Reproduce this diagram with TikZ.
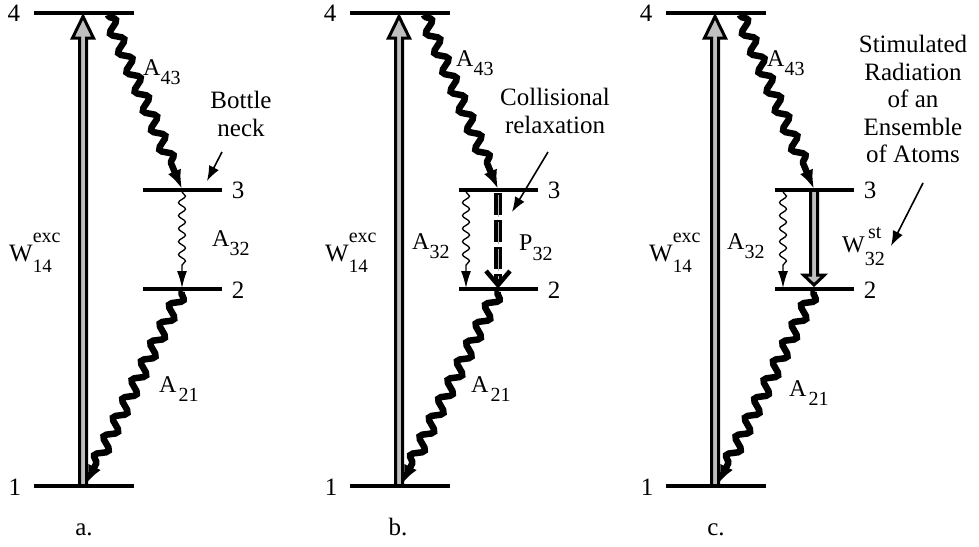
\documentclass[tikz,border=0pt]{standalone}
\usepackage{fontspec}
\setmainfont{Liberation Serif}
\usetikzlibrary{arrows.meta,decorations.pathmorphing,calc}
\newcommand\sublab[3]{#1\hspace{#3}\raisebox{-9pt}{\fontsize{20}{20}\selectfont #2}}
\tikzset{
 levelline/.style={line width=4pt},
 lvlnum/.style={font=\fontsize{25}{25}\selectfont, inner sep=0pt},
 thickwave/.style={line width=6.5pt, decorate, decoration={snake, amplitude=5.5pt, segment length=21pt, pre length=1pt, post length=18pt}, -{Latex[length=19pt,width=14pt]}},
 thinwave/.style={line width=1.3pt, decorate, decoration={snake, amplitude=3.5pt, segment length=13pt, post length=17pt}, -{Latex[length=17pt,width=10pt]}},
 pumpbox/.style={draw=black, fill=gray!50, line width=3pt, line join=miter},
 ratelab/.style={font=\fontsize{24}{24}\selectfont, inner sep=0pt, anchor=base west},
 notetext/.style={font=\fontsize{25}{28}\selectfont, align=center, inner sep=0pt},
 pointer/.style={line width=1.6pt, -{Latex[length=15pt,width=11pt]}},
 captionlab/.style={font=\fontsize{25}{25}\selectfont, inner sep=0pt, anchor=base},
}
\begin{document}
\begin{tikzpicture}[x=1pt,y=-1pt]
\useasboundingbox (0,0) rectangle (979,546);
\foreach \p/\dx/\Tx/\Ax/\Ay/\Bx/\By/\Cx/\Cy/\Wx in {a/0/182/143/75/212/246/159/392/9,b/316/150/140/66/96/249/155/392/9,c/632/151/135/66/95/249/157/396/17}{
\begin{scope}[xshift=\dx pt]
 % level end points
 \coordinate (\p-4w) at (34,13);  \coordinate (\p-4e) at (134,13);
 \coordinate (\p-1w) at (34,486); \coordinate (\p-1e) at (134,486);
 \coordinate (\p-3w) at (143,190); \coordinate (\p-3e) at (222,190);
 \coordinate (\p-2w) at (143,289); \coordinate (\p-2e) at (222,289);
 % pump arrow W14
 \coordinate (\p-pb) at (83,486); \coordinate (\p-pt) at (83,13);
 \filldraw[pumpbox] ($(\p-pb)+(-3.5,0)$) -- ($(\p-pt)+(-3.5,25)$) -- ($(\p-pt)+(-10.5,25)$) -- ($(\p-pt)+(0,3.5)$) -- ($(\p-pt)+(10.5,25)$) -- ($(\p-pt)+(3.5,25)$) -- ($(\p-pb)+(3.5,0)$);
 % spontaneous decays
 \coordinate (\p-43s) at (108,15); \coordinate (\p-43e) at (182,189);
 \coordinate (\p-21s) at (182,291); \coordinate (\p-21e) at (86,484);
 \coordinate (\p-32s) at (\Tx,192); \coordinate (\p-32e) at (\Tx,288);
 \draw[thickwave] (\p-43s) -- (\p-43e);
 \draw[thickwave] (\p-21s) -- (\p-21e);
 \draw[thinwave] (\p-32s) -- (\p-32e);
 % levels
 \draw[levelline] (\p-4w) -- (\p-4e);
 \draw[levelline] (\p-1w) -- (\p-1e);
 \draw[levelline] (\p-3w) -- (\p-3e);
 \draw[levelline] (\p-2w) -- (\p-2e);
 \node[lvlnum] (\p-n4) at (14,13) {4};
 \node[lvlnum] (\p-n1) at (15,487) {1};
 \node[lvlnum] (\p-n3) at (238,190) {3};
 \node[lvlnum] (\p-n2) at (238,290) {2};
 % labels
 \node[ratelab] (\p-lA43) at (\Ax,\Ay) {\sublab{A}{43}{0pt}};
 \node[ratelab] (\p-lA32) at (\Bx,\By) {\sublab{A}{32}{0pt}};
 \node[ratelab] (\p-lA21) at (\Cx,\Cy) {\sublab{A}{21}{2pt}};
 \node[ratelab, font=\fontsize{25}{25}\selectfont] (\p-lW) at (\Wx,261) {W\rlap{\raisebox{19pt}{\fontsize{20}{20}\selectfont exc}}\raisebox{-11pt}{\fontsize{19}{19}\selectfont 14}};
\end{scope}
}
\node[captionlab] (capa) at (84,535) {a.};
\node[captionlab] (capb) at (398,535) {b.};
\node[captionlab] (capc) at (716,535) {c.};
% panel a annotation
\node[notetext] (bneck) at (241,114) {Bottle\\neck};
\coordinate (bn-s) at (222,152); \coordinate (bn-e) at (207,181);
\draw[pointer] (bn-s) -- (bn-e);
% panel b: collisional relaxation P32
\coordinate (b-p3) at (498,193); \coordinate (b-p2) at (498,288);
\draw[line width=8pt, dash pattern=on 22pt off 5pt] (b-p3) -- ($(b-p2)+(0,-7)$);
\draw[gray!60, line width=1pt, dash pattern=on 22pt off 5pt] ($(b-p3)+(0,2)$) -- ($(b-p2)+(0,-9)$);
\draw[line width=4.5pt, line join=miter] ($(b-p2)+(-12,-17)$) -- ($(b-p2)+(0,-3)$) -- ($(b-p2)+(12,-17)$);
\node[ratelab] (b-lP32) at (519,250) {P\raisebox{-10pt}{\fontsize{20}{20}\selectfont 32}};
\node[notetext] (coll) at (555,111) {Collisional\\relaxation};
\coordinate (cr-s) at (548,152); \coordinate (cr-e) at (512,212);
\draw[pointer] (cr-s) -- (cr-e);
% panel c: stimulated W32
\coordinate (c-ws) at (814,192); \coordinate (c-wt) at (814,285);
\filldraw[pumpbox] ($(c-ws)+(-3.5,0)$) -- ($(c-wt)+(-3.5,-10)$) -- ($(c-wt)+(-10.5,-10)$) -- (c-wt) -- ($(c-wt)+(10.5,-10)$) -- ($(c-wt)+(3.5,-10)$) -- ($(c-ws)+(3.5,0)$);
\node[ratelab, font=\fontsize{24}{24}\selectfont] (c-lW32) at (842,252) {W\rlap{\raisebox{14pt}{\fontsize{20}{20}\selectfont \,st}}\raisebox{-13pt}{\fontsize{20}{20}\selectfont 32}};
\node[notetext, font=\fontsize{25}{27.5}\selectfont] (stim) at (913,99) {Stimulated\\Radiation\\of an\\Ensemble\\of Atoms};
\coordinate (st-s) at (923,183); \coordinate (st-e) at (891,246);
\draw[pointer] (st-s) -- (st-e);
\end{tikzpicture}
\end{document}
